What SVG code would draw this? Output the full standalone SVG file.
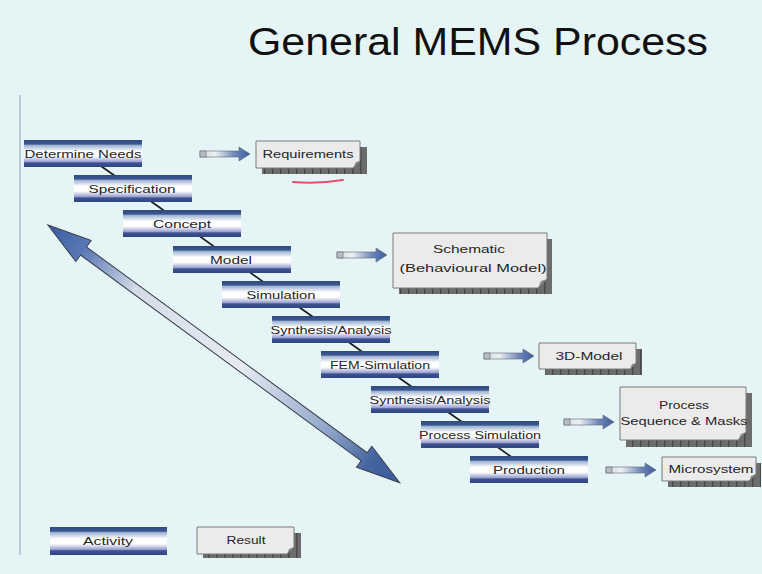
<svg xmlns="http://www.w3.org/2000/svg" width="762" height="574" viewBox="0 0 762 574">
  <defs>
    <!-- activity bar: dark stripes top and bottom, fading to white in the middle -->
    <linearGradient id="barFill" x1="0" y1="0" x2="0" y2="1">
      <stop offset="0" stop-color="#2f4a80"/>
      <stop offset="0.15" stop-color="#3a5890"/>
      <stop offset="0.2" stop-color="#9fb3d2"/>
      <stop offset="0.42" stop-color="#ffffff"/>
      <stop offset="0.6" stop-color="#ffffff"/>
      <stop offset="0.8" stop-color="#9aa0d0"/>
      <stop offset="0.85" stop-color="#3e5290"/>
      <stop offset="1" stop-color="#2f4580"/>
    </linearGradient>
    <!-- short result arrows: grey tail blending into a blue head -->
    <linearGradient id="smallArrow" x1="0" y1="0" x2="1" y2="0">
      <stop offset="0" stop-color="#d0d4d8"/>
      <stop offset="0.3" stop-color="#eef1f4"/>
      <stop offset="0.7" stop-color="#6d86b8"/>
      <stop offset="1" stop-color="#3d5c9e"/>
    </linearGradient>
    <!-- long double arrow -->
    <linearGradient id="bigArrow" x1="0" y1="0" x2="1" y2="0">
      <stop offset="0" stop-color="#3a5ca4"/>
      <stop offset="0.1" stop-color="#5a78b4"/>
      <stop offset="0.25" stop-color="#d4dce8"/>
      <stop offset="0.55" stop-color="#e6ebf2"/>
      <stop offset="0.8" stop-color="#8ea4c8"/>
      <stop offset="0.92" stop-color="#44649f"/>
      <stop offset="1" stop-color="#3a5a9c"/>
    </linearGradient>
    <pattern id="shadowTicks" patternUnits="userSpaceOnUse" width="8" height="8">
      <rect width="8" height="8" fill="#6c6c6c"/>
      <rect x="0" width="1.5" height="8" fill="#4a4a4a"/>
    </pattern>
    <path id="resArrow" d="M0,-3 H39 V-7 L50,0 L39,7 V3 H0 Z"/>
  </defs>
  <style>
    .bar { fill: url(#barFill); }
    .lbl { font-family: "Liberation Sans", Arial, sans-serif; font-size: 11px; fill: #262626; text-anchor: middle; }
    .title { font-family: "Liberation Sans", Arial, sans-serif; font-size: 38px; fill: #111; }
    .box { fill: #ebebeb; stroke: #7a7a7a; stroke-width: 1; }
    .fold { fill: #8a8a8a; }
    .shadow { fill: url(#shadowTicks); }
    .ra { fill: url(#smallArrow); stroke: #5f6676; stroke-width: 0.6; }
    .tailcap { fill: #b8bcc2; stroke: #5f6676; stroke-width: 0.6; }
    .link { stroke: #1a1a1a; stroke-width: 1.6; fill: none; }
  </style>

  <rect width="762" height="574" fill="#e5f4f4"/>
  <line x1="20" y1="95" x2="20" y2="555" stroke="#a9bcd2" stroke-width="1.5"/>

  <text class="title" x="248" y="55" textLength="460" lengthAdjust="spacingAndGlyphs">General MEMS Process</text>

  <!-- connectors: step chain and result arrows -->
  <g id="connectors">
    <polyline class="link" points="83,153.5 133,188.5 182,223.5 232,259.5 281,294.5 331,329.5 380,364.5 430,399.5 480,434.5 529,469.5"/>
    <g transform="translate(200,154)"><use href="#resArrow" class="ra"/><rect class="tailcap" x="0" y="-3" width="6" height="6"/></g>
    <g transform="translate(337,255)"><use href="#resArrow" class="ra"/><rect class="tailcap" x="0" y="-3" width="6" height="6"/></g>
    <g transform="translate(484,356)"><use href="#resArrow" class="ra"/><rect class="tailcap" x="0" y="-3" width="6" height="6"/></g>
    <g transform="translate(564,422)"><use href="#resArrow" class="ra"/><rect class="tailcap" x="0" y="-3" width="6" height="6"/></g>
    <g transform="translate(606,470)"><use href="#resArrow" class="ra"/><rect class="tailcap" x="0" y="-3" width="6" height="6"/></g>
  </g>

  <!-- double arrow spanning the process -->
  <path d="M0,0 L44,-13 L44,-5 L392,-5 L392,-13 L436,0 L392,13 L392,5 L44,5 L44,13 Z"
        transform="translate(48,225) rotate(36.24)" fill="url(#bigArrow)" stroke="#3a3f4c" stroke-width="1"/>

  <!-- activities -->
  <g id="determine-needs"><rect class="bar" x="24" y="140" width="118" height="27"/><text class="lbl" x="83" y="158" textLength="117" lengthAdjust="spacingAndGlyphs">Determine Needs</text></g>
  <g id="specification"><rect class="bar" x="74" y="175" width="118" height="27"/><text class="lbl" x="132" y="193" textLength="87" lengthAdjust="spacingAndGlyphs">Specification</text></g>
  <g id="concept"><rect class="bar" x="123" y="210" width="118" height="27"/><text class="lbl" x="182" y="228" textLength="58" lengthAdjust="spacingAndGlyphs">Concept</text></g>
  <g id="model"><rect class="bar" x="173" y="246" width="118" height="27"/><text class="lbl" x="231" y="264" textLength="42" lengthAdjust="spacingAndGlyphs">Model</text></g>
  <g id="simulation"><rect class="bar" x="222" y="281" width="118" height="27"/><text class="lbl" x="281" y="299" textLength="69" lengthAdjust="spacingAndGlyphs">Simulation</text></g>
  <g id="synthesis-analysis-1"><rect class="bar" x="272" y="316" width="118" height="27"/><text class="lbl" x="331" y="334" textLength="121" lengthAdjust="spacingAndGlyphs">Synthesis/Analysis</text></g>
  <g id="fem-simulation"><rect class="bar" x="321" y="351" width="118" height="27"/><text class="lbl" x="380" y="369" textLength="100" lengthAdjust="spacingAndGlyphs">FEM-Simulation</text></g>
  <g id="synthesis-analysis-2"><rect class="bar" x="371" y="386" width="118" height="27"/><text class="lbl" x="430" y="404" textLength="121" lengthAdjust="spacingAndGlyphs">Synthesis/Analysis</text></g>
  <g id="process-simulation"><rect class="bar" x="421" y="421" width="118" height="27"/><text class="lbl" x="480" y="439" textLength="122" lengthAdjust="spacingAndGlyphs">Process Simulation</text></g>
  <g id="production"><rect class="bar" x="470" y="456" width="118" height="27"/><text class="lbl" x="529" y="474" textLength="72" lengthAdjust="spacingAndGlyphs">Production</text></g>

  <!-- results -->
  <g id="requirements">
    <rect class="shadow" x="262" y="147" width="105" height="27"/>
    <path class="box" d="M256,141 H360 V161 L353,168 H256 Z"/>
    <path class="fold" d="M360,161 L353,168 L356,162 Z"/>
    <text class="lbl" x="308" y="158" textLength="91" lengthAdjust="spacingAndGlyphs">Requirements</text>
  </g>
  <path d="M293,182 Q318,184 343,180" stroke="#e2506c" stroke-width="2" fill="none" stroke-linecap="round"/>

  <g id="schematic">
    <rect class="shadow" x="399" y="239" width="153" height="55"/>
    <path class="box" d="M393,233 H547 V279 L538,288 H393 Z"/>
    <path class="fold" d="M547,279 L538,288 L541,281 Z"/>
    <text class="lbl" x="469" y="253" textLength="72" lengthAdjust="spacingAndGlyphs">Schematic</text>
    <text class="lbl" x="473" y="272" textLength="147" lengthAdjust="spacingAndGlyphs">(Behavioural Model)</text>
  </g>

  <g id="model-3d">
    <rect class="shadow" x="545" y="349" width="97" height="26"/>
    <path class="box" d="M539,343 H636 V363 L630,369 H539 Z"/>
    <path class="fold" d="M636,363 L630,369 L632,364 Z"/>
    <text class="lbl" x="589" y="360" textLength="67" lengthAdjust="spacingAndGlyphs">3D-Model</text>
  </g>

  <g id="process-sequence">
    <rect class="shadow" x="626" y="393" width="126" height="54"/>
    <path class="box" d="M620,387 H746 V432 L738,440 H620 Z"/>
    <path class="fold" d="M746,432 L738,440 L741,434 Z"/>
    <text class="lbl" x="684" y="409" textLength="50" lengthAdjust="spacingAndGlyphs">Process</text>
    <text class="lbl" x="684" y="425" textLength="127" lengthAdjust="spacingAndGlyphs">Sequence &amp; Masks</text>
  </g>

  <g id="microsystem">
    <rect class="shadow" x="668" y="463" width="93" height="24"/>
    <path class="box" d="M662,457 H756 V474 L749,481 H662 Z"/>
    <path class="fold" d="M756,474 L749,481 L751,476 Z"/>
    <text class="lbl" x="711" y="473" textLength="85" lengthAdjust="spacingAndGlyphs">Microsystem</text>
  </g>

  <!-- legend -->
  <g id="legend-activity"><rect class="bar" x="50" y="527" width="117" height="28"/><text class="lbl" x="108" y="545" textLength="50" lengthAdjust="spacingAndGlyphs">Activity</text></g>
  <g id="legend-result">
    <rect class="shadow" x="203" y="533" width="98" height="25"/>
    <path class="box" d="M197,527 H294 V547 L287,554 H197 Z"/>
    <path class="fold" d="M294,547 L287,554 L289,549 Z"/>
    <text class="lbl" x="246" y="544" textLength="39" lengthAdjust="spacingAndGlyphs">Result</text>
  </g>
</svg>
